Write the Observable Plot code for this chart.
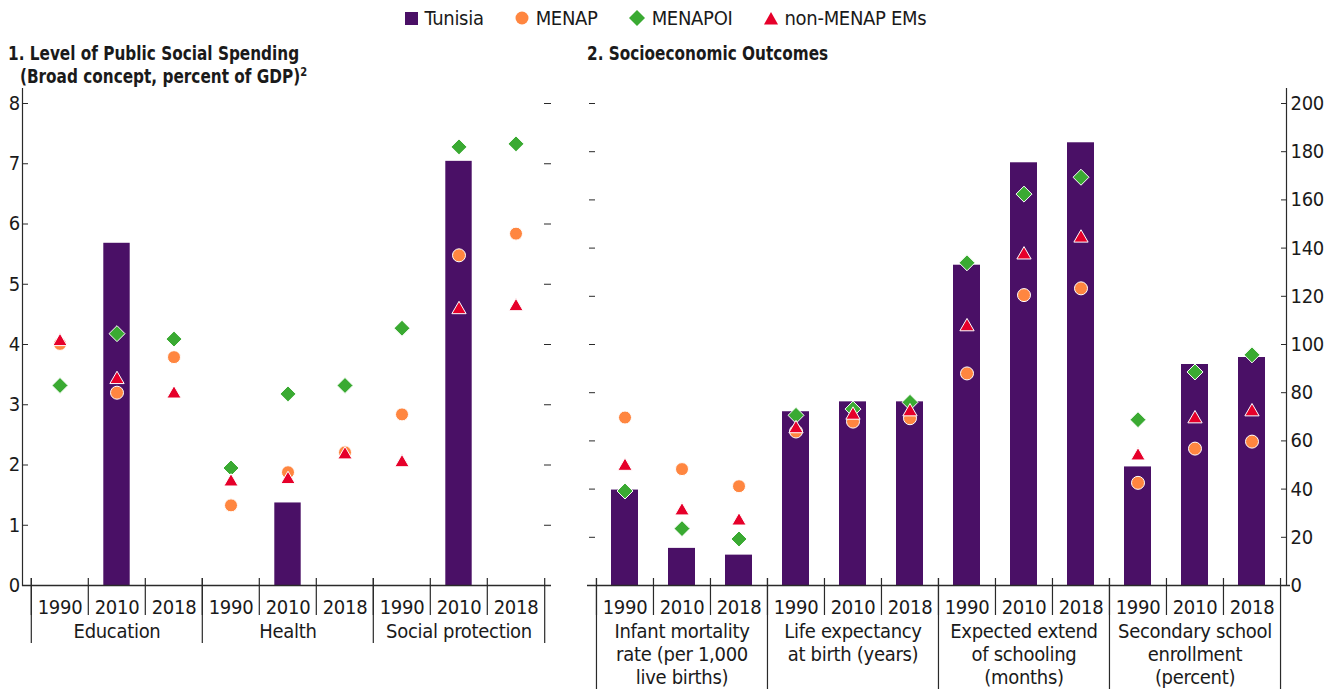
<!DOCTYPE html>
<html>
<head>
<meta charset="utf-8">
<script src="https://cdn.jsdelivr.net/npm/d3@7"></script>
<script src="https://cdn.jsdelivr.net/npm/@observablehq/plot@0.6"></script>
<style>
  html, body { margin: 0; padding: 0; background: #fff; }
  #wrap { position: relative; width: 1331px; height: 689px; overflow: hidden;
    font-family: "Liberation Sans Narrow", "Arial Narrow", "DejaVu Sans Condensed", sans-serif; color: #1a1a1a; }
  #legend { position: absolute; top: 6px; left: 0; width: 1331px; display: flex; justify-content: center;
    align-items: center; gap: 31px; font-size: 20px; line-height: 24px; letter-spacing: -0.3px; }
  .item { display: flex; align-items: center; gap: 7px; }
  .title { position: absolute; font-weight: bold; font-size: 20px; line-height: 23px; white-space: nowrap;
    transform: scaleX(0.85); transform-origin: 0 0; }
  .title sup { font-size: 13px; line-height: 0; vertical-align: 7px; }
  .panel { position: absolute; top: 86px; }
</style>
</head>
<body>
<div id="wrap">
  <div id="legend"></div>
  <div class="title" style="left:8px; top:42px;">1. Level of Public Social Spending<br><span style="padding-left:14px">(Broad concept, percent of GDP)<sup>2</sup></span></div>
  <div class="title" style="left:587px; top:42px;">2. Socioeconomic Outcomes</div>
  <div class="panel" id="left" style="left:0px;"></div>
  <div class="panel" id="right" style="left:560px;"></div>
</div>
<script>
// ---------- data ----------
const years = ["1990", "2010", "2018"];
const seriesNames = ["Tunisia", "MENAP", "MENAPOI", "non-MENAP EMs"];

// Panel 1: public social spending (percent of GDP)
const categoriesL = ["Education", "Health", "Social protection"];
const tunisiaL  = [null, 5.68, null,  null, 1.37, null,  null, 7.04, null];
const menapL    = [4.01, 3.20, 3.79,  1.33, 1.88, 2.21,  2.84, 5.48, 5.84];
const menapoiL  = [3.32, 4.18, 4.09,  1.95, 3.18, 3.32,  4.27, 7.28, 7.33];
const nonMenapL = [4.05, 3.42, 3.18,  1.72, 1.76, 2.17,  2.04, 4.58, 4.63];
const ticksL = [0, 1, 2, 3, 4, 5, 6, 7, 8];

// Panel 2: socioeconomic outcomes
const categoriesR = ["Infant mortality", "Life expectancy", "Expected schooling", "Secondary school"];
const categoryLabelsR = [
  "Infant mortality\nrate (per 1,000\nlive births)",
  "Life expectancy\nat birth (years)",
  "Expected extend\nof schooling\n(months)",
  "Secondary school\nenrollment\n(percent)"
];
const tunisiaR  = [39.6, 15.4, 12.6,  72.1, 76.2, 76.2,  132.9, 175.4, 183.7,  49.2, 91.7, 94.6];
const menapR    = [69.7, 48.3, 41.2,  63.9, 68.0, 69.4,   88.0, 120.5, 123.3,  42.6, 56.8, 59.7];
const menapoiR  = [39.2, 23.6, 19.3,  70.6, 73.2, 76.0,  133.9, 162.4, 169.4,  68.8, 88.6, 95.7];
const nonMenapR = [49.5, 31.0, 26.8,  65.1, 70.7, 72.1,  107.4, 137.2, 144.2,  53.8, 69.2, 72.1];
const ticksR = [0, 20, 40, 60, 80, 100, 120, 140, 160, 180, 200];

// ---------- styles ----------
const colors = {"Tunisia": "#4a1066", "MENAP": "#ff8640", "MENAPOI": "#3aaa32", "non-MENAP EMs": "#e6002a"};
const FONT = '"Liberation Sans Narrow", "Arial Narrow", "DejaVu Sans Condensed", sans-serif';
const INK = "#1a1a1a";
const LINE = "#2a2a2a";
const FS = 20;

// ---------- legend ----------
const legendSymbols = {
  "Tunisia": `<svg width="13" height="13"><rect width="13" height="13" fill="${colors["Tunisia"]}"/></svg>`,
  "MENAP": `<svg width="14" height="14"><circle cx="7" cy="7" r="6.5" fill="${colors["MENAP"]}"/></svg>`,
  "MENAPOI": `<svg width="16" height="16"><polygon points="8,0 16,8 8,16 0,8" fill="${colors["MENAPOI"]}"/></svg>`,
  "non-MENAP EMs": `<svg width="14" height="13"><polygon points="7,0 14,12.5 0,12.5" fill="${colors["non-MENAP EMs"]}"/></svg>`
};
document.getElementById("legend").innerHTML = seriesNames.map(n =>
  `<div class="item">${legendSymbols[n]}<span>${n}</span></div>`).join("");

// ---------- helpers ----------
function buildRows(categories, t, m, mo, nm) {
  const rows = [];
  categories.forEach((c, ci) => years.forEach((y, yi) => {
    const i = ci * 3 + yi;
    rows.push({key: c + "|" + y, cat: c, year: y, tunisia: t[i], menap: m[i], menapoi: mo[i], nonmenap: nm[i]});
  }));
  return rows;
}

function panel({rows, categories, labels, yDomain, ticks, width, marginLeft, marginRight, xRange, barInset, groupDrop, leftAxis}) {
  const keys = rows.map(d => d.key);
  const bw = (xRange[1] - xRange[0]) / keys.length;
  const zero = () => 0;
  const firsts = categories.map(c => c + "|1990");
  const last = [categories[categories.length - 1] + "|2018"];
  const groups = categories.map((c, i) => ({key: c + "|2010", label: labels[i]}));
  const marks = [];
  if (leftAxis) {
    marks.push(
      Plot.frame({anchor: "left", stroke: LINE, strokeWidth: 1.2}),
      Plot.axisY({anchor: "left", ticks, tickSize: -6, tickPadding: 8.5, label: null, stroke: LINE, fontSize: FS}),
      Plot.axisY({anchor: "right", ticks, tickSize: -7, fill: "none", label: null, stroke: LINE})
    );
  } else {
    marks.push(
      Plot.frame({anchor: "right", stroke: LINE, strokeWidth: 1.2}),
      Plot.axisY({anchor: "right", ticks, tickSize: -6, tickPadding: 10, label: null, stroke: LINE, fontSize: FS, textAnchor: "start"}),
      Plot.axisY({anchor: "left", ticks, tickSize: -6, fill: "none", label: null, stroke: LINE})
    );
  }
  marks.push(
    Plot.barY(rows.filter(d => d.tunisia != null), {x: "key", y: "tunisia", fill: colors["Tunisia"], insetLeft: barInset, insetRight: barInset}),
    Plot.dot(rows, {x: "key", y: "menapoi", symbol: "diamond2", r: 7.2, fill: colors["MENAPOI"], stroke: "white", strokeWidth: 1}),
    Plot.dot(rows, {x: "key", y: "menap", symbol: "circle", r: 6.5, fill: colors["MENAP"], stroke: "white", strokeWidth: 1}),
    Plot.dot(rows, {x: "key", y: "nonmenap", symbol: "triangle", r: 5.3, fill: colors["non-MENAP EMs"], stroke: "white", strokeWidth: 1}),
    Plot.ruleY([0], {stroke: LINE, strokeWidth: 1.5, insetLeft: leftAxis ? 0 : -2, insetRight: leftAxis ? -1 : -4}),
    Plot.ruleX(keys, {x: d => d, y1: zero, y2: zero, insetTop: -7, insetBottom: -30, dx: -bw / 2, stroke: LINE, strokeWidth: 1.2}),
    Plot.ruleX(firsts, {x: d => d, y1: zero, y2: zero, insetTop: -7, insetBottom: -groupDrop, dx: -bw / 2, stroke: LINE, strokeWidth: 1.2}),
    Plot.ruleX(last, {x: d => d, y1: zero, y2: zero, insetTop: -7, insetBottom: -groupDrop, dx: bw / 2, stroke: LINE, strokeWidth: 1.2}),
    Plot.text(rows, {x: "key", y: zero, text: "year", lineAnchor: "top", dy: 14.5, fontSize: FS, fill: INK}),
    Plot.text(groups, {x: "key", y: zero, text: "label", lineAnchor: "top", dy: 36, lineHeight: 23 / FS, fontSize: FS, fill: INK})
  );
  return Plot.plot({
    width, height: 603,
    marginTop: 2, marginBottom: 104, marginLeft, marginRight,
    x: {type: "band", domain: keys, range: xRange, padding: 0, axis: null},
    y: {domain: yDomain, range: [499, 17], axis: null},
    style: {fontFamily: FONT, fontSize: FS + "px", letterSpacing: "-0.3px", color: INK, background: "transparent", overflow: "visible"},
    marks
  });
}

const rowsL = buildRows(categoriesL, tunisiaL, menapL, menapoiL, nonMenapL);
const rowsR = buildRows(categoriesR, tunisiaR, menapR, menapoiR, nonMenapR);

document.getElementById("left").append(panel({
  rows: rowsL, categories: categoriesL, labels: categoriesL, yDomain: [0, 8], ticks: ticksL,
  width: 560, marginLeft: 22, marginRight: 10, xRange: [29, 545.6], barInset: 15.3, groupDrop: 58, leftAxis: true
}));
document.getElementById("right").append(panel({
  rows: rowsR, categories: categoriesR, labels: categoryLabelsR, yDomain: [0, 200], ticks: ticksR,
  width: 771, marginLeft: 29, marginRight: 45, xRange: [35.5, 720.3], barInset: 15, groupDrop: 104, leftAxis: false
}));
</script>
</body>
</html>
